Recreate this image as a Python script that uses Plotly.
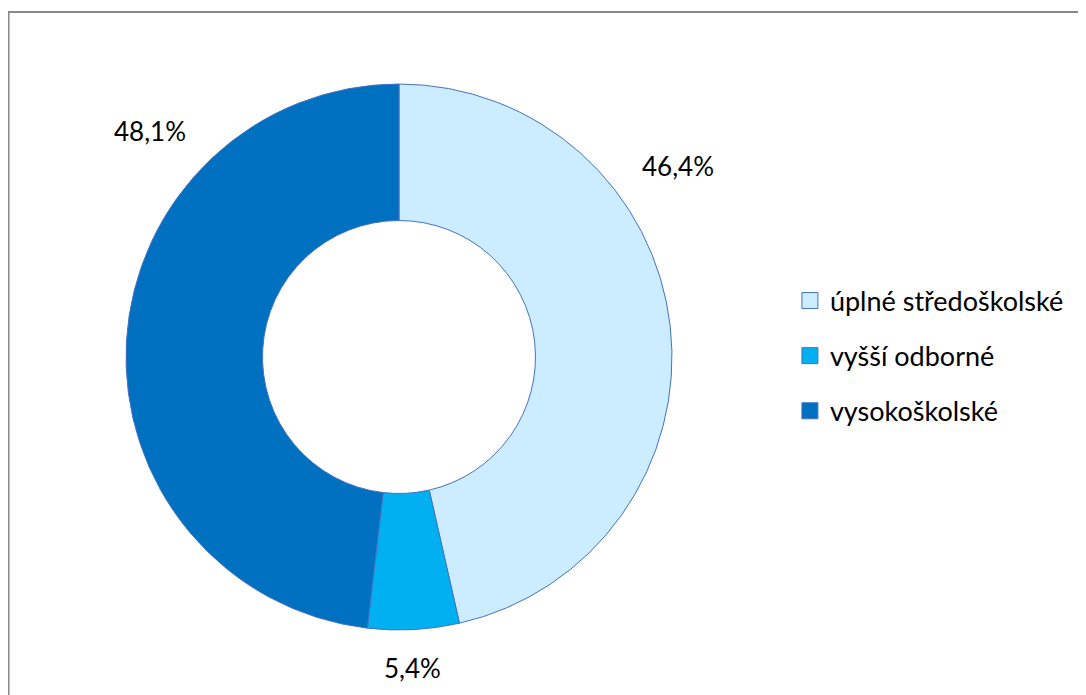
import plotly.graph_objects as go

categories = ["úplné středoškolské", "vyšší odborné", "vysokoškolské"]
shares = [46.4, 5.4, 48.1]
colors = ["#CCECFF", "#00B0F0", "#0070C0"]
label_pos = [(0.6169, 0.7727), (0.3729, 0.0504), (0.1308, 0.8230)]

W, H = 1086, 695
FONT = "Lato"

fig = go.Figure()
fig.add_trace(go.Pie(
    labels=categories, values=shares, sort=False, direction="clockwise", rotation=0,
    hole=0.5, textinfo="none", showlegend=False, hoverinfo="label+percent",
    marker=dict(colors=colors, line=dict(color="#4472C4", width=1)),
    domain=dict(x=[0.10866, 0.6114], y=[0.10504, 0.89065]),
))

for i, (cat, col) in enumerate(zip(categories, colors)):
    fig.add_trace(go.Scatter(
        x=[None], y=[None], mode="markers", name=cat, legendgroup=f"g{i}",
        marker=dict(symbol="square", size=18, color=col, line=dict(color="#4472C4", width=1)),
    ))

for v, (px, py) in zip(shares, label_pos):
    fig.add_annotation(x=px, y=py, xref="paper", yref="paper", showarrow=False,
                       xanchor="center", yanchor="middle",
                       text=f"{v:.1f}".replace(".", ",") + "%",
                       font=dict(family=FONT, size=26, color="#000000"))

fig.add_shape(type="rect", xref="paper", yref="paper",
              x0=0.5 / W, x1=1.02, y0=-0.02, y1=1 - 4 / H,
              line=dict(color="#888888", width=2))

fig.update_layout(
    width=W, height=H, margin=dict(l=0, r=0, t=0, b=0),
    paper_bgcolor="white", plot_bgcolor="white",
    xaxis=dict(visible=False), yaxis=dict(visible=False),
    legend=dict(x=0.720, y=0.4993, xanchor="left", yanchor="middle",
                traceorder="grouped", tracegroupgap=17,
                font=dict(family=FONT, size=27, color="#000000"),
                bgcolor="rgba(0,0,0,0)"),
    font=dict(family=FONT),
)

fig.write_html("out.html")
